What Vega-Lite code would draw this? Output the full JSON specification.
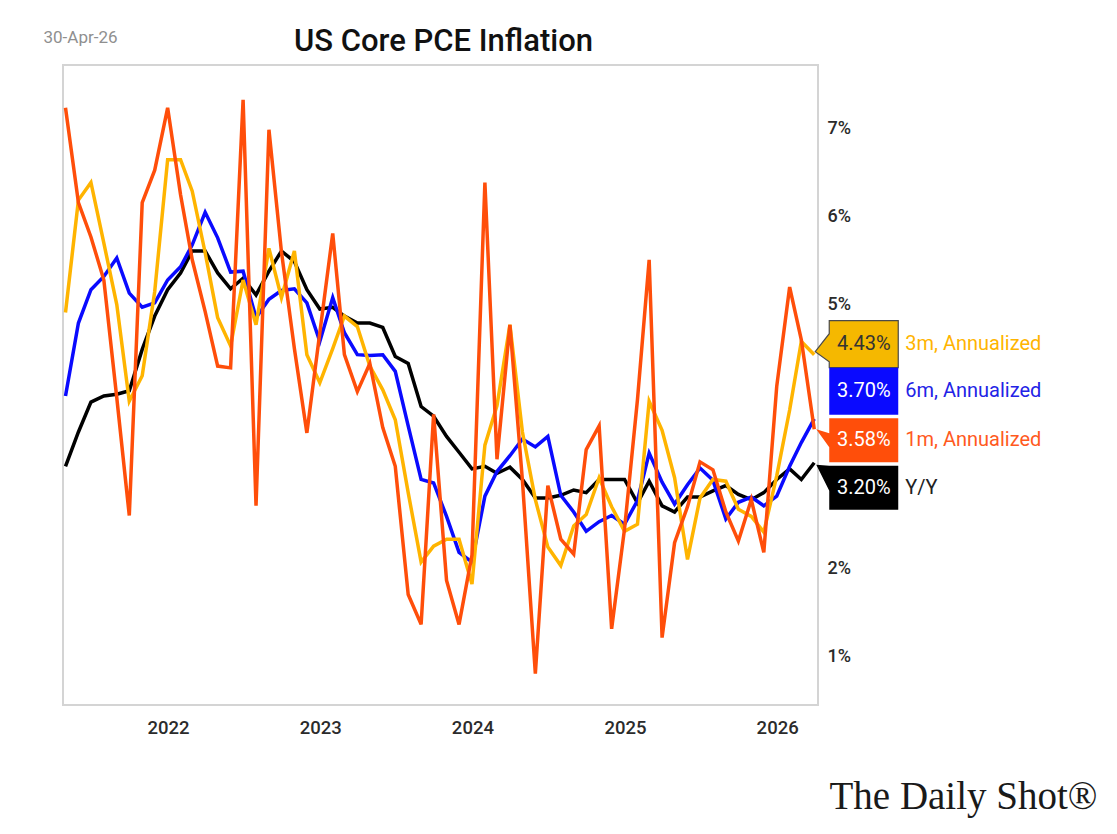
{
  "$schema": "https://vega.github.io/schema/vega-lite/v6.json",
  "width": 755,
  "height": 640,
  "autosize": {"type": "none"},
  "padding": {"left": 63, "top": 65, "right": 299, "bottom": 129},
  "background": "white",
  "title": {"text": "US Core PCE Inflation", "anchor": "middle", "font": "Roboto", "fontSize": 31, "fontWeight": 500, "color": "#111111", "baseline": "alphabetic", "offset": 13, "dx": 3, "dy": 67},
  "datasets": {
    "pce": [
      {"d": "2021-04-30", "m1": 7.24, "m3": 4.91, "m6": 3.96, "yy": 3.16},
      {"d": "2021-05-31", "m1": 6.16, "m3": 6.19, "m6": 4.79, "yy": 3.55},
      {"d": "2021-06-30", "m1": 5.77, "m3": 6.39, "m6": 5.17, "yy": 3.89},
      {"d": "2021-07-31", "m1": 5.28, "m3": 5.70, "m6": 5.32, "yy": 3.96},
      {"d": "2021-08-31", "m1": 3.94, "m3": 5.00, "m6": 5.53, "yy": 3.98},
      {"d": "2021-09-30", "m1": 2.60, "m3": 3.90, "m6": 5.13, "yy": 4.02},
      {"d": "2021-10-31", "m1": 6.16, "m3": 4.19, "m6": 4.97, "yy": 4.49},
      {"d": "2021-11-30", "m1": 6.53, "m3": 5.15, "m6": 5.02, "yy": 4.87},
      {"d": "2021-12-31", "m1": 7.24, "m3": 6.65, "m6": 5.28, "yy": 5.17},
      {"d": "2022-01-31", "m1": 6.25, "m3": 6.65, "m6": 5.43, "yy": 5.36},
      {"d": "2022-02-28", "m1": 5.51, "m3": 6.29, "m6": 5.68, "yy": 5.61},
      {"d": "2022-03-31", "m1": 4.92, "m3": 5.59, "m6": 6.05, "yy": 5.61},
      {"d": "2022-04-30", "m1": 4.30, "m3": 4.85, "m6": 5.76, "yy": 5.36},
      {"d": "2022-05-31", "m1": 4.28, "m3": 4.53, "m6": 5.37, "yy": 5.18},
      {"d": "2022-06-30", "m1": 7.33, "m3": 5.28, "m6": 5.38, "yy": 5.30},
      {"d": "2022-07-31", "m1": 2.71, "m3": 4.77, "m6": 4.85, "yy": 5.11},
      {"d": "2022-08-31", "m1": 6.99, "m3": 5.64, "m6": 5.06, "yy": 5.38},
      {"d": "2022-09-30", "m1": 5.60, "m3": 5.08, "m6": 5.16, "yy": 5.61},
      {"d": "2022-10-31", "m1": 4.50, "m3": 5.61, "m6": 5.18, "yy": 5.49},
      {"d": "2022-11-30", "m1": 3.54, "m3": 4.43, "m6": 5.02, "yy": 5.17},
      {"d": "2022-12-31", "m1": 4.68, "m3": 4.11, "m6": 4.58, "yy": 4.95},
      {"d": "2023-01-31", "m1": 5.81, "m3": 4.50, "m6": 5.08, "yy": 4.97},
      {"d": "2023-02-28", "m1": 4.43, "m3": 4.87, "m6": 4.68, "yy": 4.87},
      {"d": "2023-03-31", "m1": 4.01, "m3": 4.75, "m6": 4.43, "yy": 4.79},
      {"d": "2023-04-30", "m1": 4.33, "m3": 4.30, "m6": 4.42, "yy": 4.79},
      {"d": "2023-05-31", "m1": 3.60, "m3": 4.03, "m6": 4.43, "yy": 4.74},
      {"d": "2023-06-30", "m1": 3.16, "m3": 3.69, "m6": 4.24, "yy": 4.41},
      {"d": "2023-07-31", "m1": 1.70, "m3": 2.86, "m6": 3.62, "yy": 4.33},
      {"d": "2023-08-31", "m1": 1.36, "m3": 2.07, "m6": 3.01, "yy": 3.84},
      {"d": "2023-09-30", "m1": 3.75, "m3": 2.25, "m6": 2.97, "yy": 3.73},
      {"d": "2023-10-31", "m1": 1.86, "m3": 2.33, "m6": 2.59, "yy": 3.50},
      {"d": "2023-11-30", "m1": 1.36, "m3": 2.33, "m6": 2.18, "yy": 3.32},
      {"d": "2023-12-31", "m1": 2.15, "m3": 1.82, "m6": 2.07, "yy": 3.13},
      {"d": "2024-01-31", "m1": 6.39, "m3": 3.40, "m6": 2.82, "yy": 3.16},
      {"d": "2024-02-29", "m1": 3.24, "m3": 3.85, "m6": 3.10, "yy": 3.08},
      {"d": "2024-03-31", "m1": 4.77, "m3": 4.77, "m6": 3.28, "yy": 3.15},
      {"d": "2024-04-30", "m1": 3.00, "m3": 3.55, "m6": 3.47, "yy": 3.01},
      {"d": "2024-05-31", "m1": 0.80, "m3": 2.78, "m6": 3.38, "yy": 2.80},
      {"d": "2024-06-30", "m1": 2.94, "m3": 2.24, "m6": 3.50, "yy": 2.80},
      {"d": "2024-07-31", "m1": 2.33, "m3": 2.03, "m6": 2.83, "yy": 2.83},
      {"d": "2024-08-31", "m1": 2.16, "m3": 2.48, "m6": 2.64, "yy": 2.89},
      {"d": "2024-09-30", "m1": 3.35, "m3": 2.61, "m6": 2.42, "yy": 2.86},
      {"d": "2024-10-31", "m1": 3.62, "m3": 3.03, "m6": 2.53, "yy": 3.01},
      {"d": "2024-11-30", "m1": 1.31, "m3": 2.70, "m6": 2.60, "yy": 3.01},
      {"d": "2024-12-31", "m1": 2.45, "m3": 2.42, "m6": 2.50, "yy": 3.01},
      {"d": "2025-01-31", "m1": 3.92, "m3": 2.50, "m6": 2.77, "yy": 2.74},
      {"d": "2025-02-28", "m1": 5.51, "m3": 3.90, "m6": 3.31, "yy": 2.99},
      {"d": "2025-03-31", "m1": 1.21, "m3": 3.57, "m6": 2.98, "yy": 2.71},
      {"d": "2025-04-30", "m1": 2.29, "m3": 3.03, "m6": 2.73, "yy": 2.64},
      {"d": "2025-05-31", "m1": 2.70, "m3": 2.10, "m6": 2.95, "yy": 2.81},
      {"d": "2025-06-30", "m1": 3.21, "m3": 2.80, "m6": 3.14, "yy": 2.81},
      {"d": "2025-07-31", "m1": 3.12, "m3": 3.01, "m6": 3.00, "yy": 2.88},
      {"d": "2025-08-31", "m1": 2.64, "m3": 2.99, "m6": 2.56, "yy": 2.94},
      {"d": "2025-09-30", "m1": 2.31, "m3": 2.67, "m6": 2.75, "yy": 2.84},
      {"d": "2025-10-31", "m1": 2.78, "m3": 2.59, "m6": 2.81, "yy": 2.78},
      {"d": "2025-11-30", "m1": 2.18, "m3": 2.41, "m6": 2.71, "yy": 2.86},
      {"d": "2025-12-31", "m1": 4.07, "m3": 3.05, "m6": 2.82, "yy": 3.01},
      {"d": "2026-01-31", "m1": 5.20, "m3": 3.80, "m6": 3.16, "yy": 3.13},
      {"d": "2026-02-28", "m1": 4.60, "m3": 4.58, "m6": 3.43, "yy": 3.01},
      {"d": "2026-03-31", "m1": 3.58, "m3": 4.43, "m6": 3.70, "yy": 3.20}
    ],
    "last": [
      {"s": "m3", "d": "2026-03-31", "v": 4.43, "label": "4.43%", "name": "3m, Annualized"},
      {"s": "m6", "d": "2026-03-31", "v": 3.70, "label": "3.70%", "name": "6m, Annualized"},
      {"s": "m1", "d": "2026-03-31", "v": 3.58, "label": "3.58%", "name": "1m, Annualized"},
      {"s": "yy", "d": "2026-03-31", "v": 3.20, "label": "3.20%", "name": "Y/Y"}
    ]
  },
  "encoding": {
    "x": {
      "field": "d", "type": "temporal",
      "scale": {"domain": [{"year": 2021, "month": 4, "date": 24}, {"year": 2026, "month": 4, "date": 9}], "nice": false},
      "axis": {
        "values": [{"year": 2022, "month": 1, "date": 1}, {"year": 2023, "month": 1, "date": 1}, {"year": 2024, "month": 1, "date": 1}, {"year": 2025, "month": 1, "date": 1}, {"year": 2026, "month": 1, "date": 1}],
        "format": "%Y", "labelPadding": 13, "labelFlush": false, "labelFontSize": 18.5,
        "title": "The Daily Shot®", "titleX": 766, "titleY": 103, "titleAlign": "left", "titleBaseline": "alphabetic",
        "titleFont": "Liberation Serif", "titleFontSize": 39, "titleFontWeight": "normal", "titleColor": "#1a1a1a"
      }
    },
    "y": {
      "field": "v", "type": "quantitative",
      "scale": {"domain": [0.443, 7.727], "nice": false, "zero": false},
      "axis": {
        "orient": "right", "values": [1, 2, 5, 6, 7], "labelExpr": "datum.value + '%'", "labelPadding": 9, "labelAlign": "left",
        "title": "30-Apr-26", "titleAngle": 0, "titleX": -738, "titleY": -28, "titleAlign": "center", "titleBaseline": "middle",
        "titleFont": "Roboto", "titleFontSize": 17, "titleFontWeight": "normal", "titleColor": "#8f8f8f"
      }
    }
  },
  "layer": [
    {
      "data": {"name": "pce"},
      "transform": [{"fold": ["yy", "m6", "m3", "m1"], "as": ["s", "v"]}],
      "mark": {"type": "line", "strokeWidth": 3.5},
      "encoding": {
        "color": {"field": "s", "type": "nominal", "scale": {"domain": ["yy", "m6", "m3", "m1"], "range": ["#000000", "#0A0AFF", "#FFB400", "#FF4E0A"]}, "legend": null},
        "order": {"field": "d", "type": "temporal"}
      }
    },
    {
      "data": {"name": "last"}, "transform": [{"filter": "datum.s === 'm3'"}],
      "mark": {"type": "point", "shape": "M15,-34L84,-34L84,13L15,13L15,7L1,-3L15,-21Z", "size": 4, "filled": true, "fill": "#F5B800", "stroke": "#4a4a4a", "strokeWidth": 1.2, "opacity": 1}
    },
    {
      "data": {"name": "last"}, "transform": [{"filter": "datum.s === 'm6'"}],
      "mark": {"type": "point", "shape": "M15,-51L84,-51L84,-4L15,-4Z", "size": 4, "filled": true, "fill": "#0A0AFF", "strokeWidth": 0, "opacity": 1}
    },
    {
      "data": {"name": "last"}, "transform": [{"filter": "datum.s === 'm1'"}],
      "mark": {"type": "point", "shape": "M15,-11L84,-11L84,33L15,33L15,18L2,0L15,4Z", "size": 4, "filled": true, "fill": "#FF4E0A", "strokeWidth": 0, "opacity": 1}
    },
    {
      "data": {"name": "last"}, "transform": [{"filter": "datum.s === 'yy'"}],
      "mark": {"type": "point", "shape": "M15,3L84,3L84,47L15,47L15,28L2,2Z", "size": 4, "filled": true, "fill": "#000000", "strokeWidth": 0, "opacity": 1}
    },
    {
      "data": {"name": "last"}, "transform": [{"filter": "datum.s === 'm3'"}],
      "mark": {"type": "text", "dx": 49.6, "dy": -10.5, "align": "center", "baseline": "middle", "font": "Roboto", "fontSize": 20, "fill": "#333333"},
      "encoding": {"text": {"field": "label"}}
    },
    {
      "data": {"name": "last"}, "transform": [{"filter": "datum.s === 'm6'"}],
      "mark": {"type": "text", "dx": 49.6, "dy": -27.5, "align": "center", "baseline": "middle", "font": "Roboto", "fontSize": 20, "fill": "#ffffff"},
      "encoding": {"text": {"field": "label"}}
    },
    {
      "data": {"name": "last"}, "transform": [{"filter": "datum.s === 'm1'"}],
      "mark": {"type": "text", "dx": 49.6, "dy": 11, "align": "center", "baseline": "middle", "font": "Roboto", "fontSize": 20, "fill": "#ffffff"},
      "encoding": {"text": {"field": "label"}}
    },
    {
      "data": {"name": "last"}, "transform": [{"filter": "datum.s === 'yy'"}],
      "mark": {"type": "text", "dx": 49.6, "dy": 25, "align": "center", "baseline": "middle", "font": "Roboto", "fontSize": 20, "fill": "#ffffff"},
      "encoding": {"text": {"field": "label"}}
    },
    {
      "data": {"name": "last"}, "transform": [{"filter": "datum.s === 'm3'"}],
      "mark": {"type": "text", "dx": 91, "dy": -10.5, "align": "left", "baseline": "middle", "font": "Roboto", "fontSize": 20, "fill": "#FFB400"},
      "encoding": {"text": {"field": "name"}}
    },
    {
      "data": {"name": "last"}, "transform": [{"filter": "datum.s === 'm6'"}],
      "mark": {"type": "text", "dx": 91, "dy": -27.5, "align": "left", "baseline": "middle", "font": "Roboto", "fontSize": 20, "fill": "#2323E6"},
      "encoding": {"text": {"field": "name"}}
    },
    {
      "data": {"name": "last"}, "transform": [{"filter": "datum.s === 'm1'"}],
      "mark": {"type": "text", "dx": 91, "dy": 11, "align": "left", "baseline": "middle", "font": "Roboto", "fontSize": 20, "fill": "#FF5A1E"},
      "encoding": {"text": {"field": "name"}}
    },
    {
      "data": {"name": "last"}, "transform": [{"filter": "datum.s === 'yy'"}],
      "mark": {"type": "text", "dx": 91, "dy": 25, "align": "left", "baseline": "middle", "font": "Roboto", "fontSize": 20, "fill": "#222222"},
      "encoding": {"text": {"field": "name"}}
    }
  ],
  "config": {
    "font": "Roboto",
    "view": {"stroke": "#d4d4d4", "strokeWidth": 2},
    "axis": {"grid": false, "ticks": false, "domain": false, "labelFont": "Roboto", "labelColor": "#2b2b2b", "labelFontSize": 18, "labelFontWeight": 500}
  }
}
